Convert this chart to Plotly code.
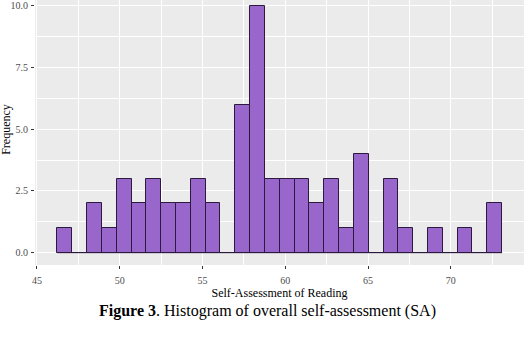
import numpy as np
import plotly.graph_objects as go

# Histogram (30 bins) of self-assessment of reading
bin_first_center = 46.68
bin_width = 0.8955
counts = [1, 0, 2, 1, 3, 2, 3, 2, 2, 3, 2, 0, 6, 10, 3, 3, 3, 2, 3, 1, 4, 0, 3, 1, 0, 1, 0, 1, 0, 2]
x_ticks = [45, 50, 55, 60, 65, 70]
y_ticks = [0.0, 2.5, 5.0, 7.5, 10.0]
y_tick_text = ["0.0", "2.5", "5.0", "7.5", "10.0"]

centers = bin_first_center + bin_width * np.arange(len(counts))

SERIF = "Liberation Serif, Times New Roman, serif"

fig = go.Figure()
fig.add_trace(go.Bar(
    x=centers, y=counts, width=bin_width,
    marker=dict(color="#9966CC", line=dict(color="#2b1a3d", width=1)),
    hoverinfo="x+y",
))
# zero-height bins drawn as outline at baseline (as ggplot does)
edges_x = [centers[0] - bin_width / 2, centers[-1] + bin_width / 2]
fig.add_trace(go.Scatter(x=edges_x, y=[0, 0], mode="lines",
                         line=dict(color="#2b1a3d", width=1), hoverinfo="skip"))

fig.update_layout(
    width=528, height=355,
    margin=dict(l=35, r=4, t=0, b=90),
    paper_bgcolor="white",
    plot_bgcolor="#EBEBEB",
    showlegend=False,
    bargap=0,
    font=dict(family=SERIF, color="#4d4d4d", size=10),
)
fig.update_xaxes(
    range=[44.88, 74.42],
    tickvals=x_ticks, ticktext=[str(v) for v in x_ticks],
    showgrid=True, gridcolor="white", gridwidth=1.3,
    minor=dict(dtick=2.5, tick0=42.5, showgrid=True, gridcolor="white", gridwidth=0.6, ticks=""),
    ticks="outside", ticklen=3, tickcolor="#333333", tickwidth=1,
    ticklabelstandoff=3,
    tickfont=dict(family=SERIF, size=10, color="#4d4d4d"),
    zeroline=False, showline=False,
    title=dict(text="Self-Assessment of Reading", font=dict(family=SERIF, size=12, color="black"), standoff=0),
)
fig.update_yaxes(
    range=[-0.5, 10.24],
    tickvals=y_ticks, ticktext=y_tick_text,
    showgrid=True, gridcolor="white", gridwidth=1.3,
    minor=dict(dtick=1.25, tick0=0, showgrid=True, gridcolor="white", gridwidth=0.6, ticks=""),
    ticks="outside", ticklen=3, tickcolor="#333333", tickwidth=1,
    ticklabelstandoff=1,
    tickfont=dict(family=SERIF, size=10, color="#4d4d4d"),
    zeroline=False, showline=False,
)
fig.add_annotation(
    text="Frequency", textangle=-90, xref="paper", yref="paper",
    x=0, y=0.51, xanchor="center", yanchor="middle", xshift=-29, showarrow=False,
    font=dict(family=SERIF, size=12, color="black"),
)
fig.add_annotation(
    text="<b>Figure 3</b>. Histogram of overall self-assessment (SA)",
    xref="paper", yref="paper", x=0.476, y=0, xanchor="center", yanchor="middle",
    yshift=-46, showarrow=False,
    font=dict(family=SERIF, size=16, color="black"),
)

fig.write_html("out.html")
